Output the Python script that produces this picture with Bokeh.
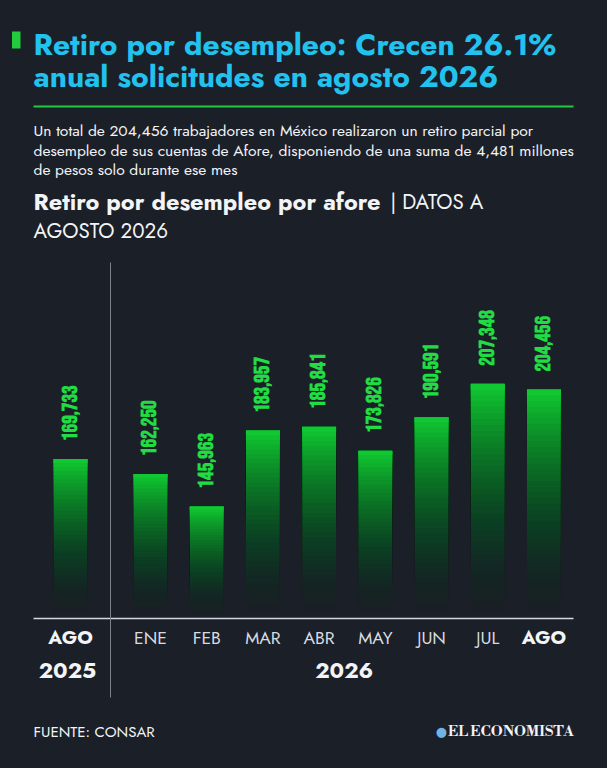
import math, subprocess
from bokeh.plotting import figure
from bokeh.models import ColumnDataSource, Label, Range1d
from bokeh.embed import file_html
from bokeh.resources import INLINE
from bokeh.core.properties import value

# ---------------- data ----------------
months = ["AGO", "ENE", "FEB", "MAR", "ABR", "MAY", "JUN", "JUL", "AGO"]
years = ["2025", "2026", "2026", "2026", "2026", "2026", "2026", "2026", "2026"]
values = [169733, 162250, 145963, 183957, 185841, 173826, 190591, 207348, 204456]

title_lines = ["Retiro por desempleo: Crecen 26.1%", "anual solicitudes en agosto 2026"]
subtitle_lines = [
    "Un total de 204,456 trabajadores en México realizaron un retiro parcial por",
    "desempleo de sus cuentas de Afore, disponiendo de una suma de 4,481 millones",
    "de pesos solo durante ese mes",
]
chart_title_bold = "Retiro por desempleo por afore"
chart_title_rest = "| DATOS A"
chart_title_line2 = "AGOSTO 2026"
source_text = "FUENTE: CONSAR"
brand_text = "EL ECONOMISTA"

# ---------------- fonts ----------------
try:
    _out = subprocess.run(["fc-list", ":", "family"], capture_output=True, text=True).stdout
except Exception:
    _out = ""
FAMS = set()
for _l in _out.splitlines():
    for _n in _l.split(","):
        FAMS.add(_n.strip())


def pick(*cands):
    for c in cands:
        if c in FAMS:
            return c
    return cands[-1]


F_GEO = pick("Jost", "League Spartan", "Outfit", "Open Sans")
F_GEO_LIGHT = pick("Jost Light", F_GEO)
F_NUM = pick("Bebas Neue", "Oswald", "Fjalla One", "Barlow Condensed", "Roboto Condensed", "Roboto")
F_BRAND = pick("Libre Bodoni", "Bodoni Moda", "Liberation Serif")

# ---------------- layout / style ----------------
W, H = 607, 768
BG = "#1b1f27"
TITLE_COLOR = "#22c2ef"
ACCENT = "#22cc3c"
BAR_GREEN = "#12c832"
LABEL_GREEN = "#22dc44"
WHITE = "#f2f4f6"
LIGHT = "#d8dce1"

GROUP_GAP = 0.423
BASE = 90000
PX_PER_UNIT_X = 56.21
X_START = -70 / PX_PER_UNIT_X
X_END = X_START + W / PX_PER_UNIT_X
UNITS_PER_PX_Y = 500
Y_START = BASE - (H - 618) * UNITS_PER_PX_Y
Y_END = Y_START + H * UNITS_PER_PX_Y
BAR_W = 0.605


def sy(yr):  # reference px (from top) -> screen y from bottom
    return H - yr


def dx(xr):
    return X_START + xr / PX_PER_UNIT_X


def dy(yr):
    return Y_START + sy(yr) * UNITS_PER_PX_Y


p = figure(width=W, height=H, output_backend="svg", toolbar_location=None,
           x_range=Range1d(X_START, X_END), y_range=Range1d(Y_START, Y_END),
           x_axis_location=None, y_axis_location=None, min_border=0,
           background_fill_color=BG, border_fill_color=BG, outline_line_color=None)
p.grid.visible = False

# x positions from category order and year groups
groups = list(dict.fromkeys(years))
xpos = [i + groups.index(y) * GROUP_GAP for i, y in enumerate(years)]

# ---------------- gradient bars (stacked translucent layers) ----------------
N = 40


def target(t):
    return t ** 1.7


bx, btop, bbot, balpha = [], [], [], []
for x, v in zip(xpos, values):
    for k in range(N):
        t0 = k / N
        t1 = (k + 1) / N
        o0, o1 = target(t0), target(t1)
        a = 1 - (1 - o1) / (1 - o0) if o0 < 1 else 1.0
        a = min(max(a, 0.0), 1.0)
        bx.append(x)
        bbot.append(BASE + (v - BASE) * t0)
        btop.append(v)
        balpha.append(a)
bars = ColumnDataSource(dict(x=bx, top=btop, bottom=bbot, alpha=balpha))
p.vbar(x="x", top="top", bottom="bottom", width=BAR_W, source=bars,
       fill_color=BAR_GREEN, fill_alpha="alpha", line_color=None)

# ---------------- value labels ----------------
lab_src = ColumnDataSource(dict(x=xpos, y=values, t=[f"{v:,}" for v in values]))
p.text(x="x", y="y", text="t", source=lab_src, angle=math.pi / 2,
       text_align="left", text_baseline="middle", x_offset=-2, y_offset=-18,
       text_color=LABEL_GREEN, text_font=value(F_NUM),
       text_font_style="bold", text_font_size="21.5px")

# ---------------- axis line and separator ----------------
p.segment(x0=[dx(33)], x1=[dx(573)], y0=[BASE], y1=[BASE], line_color="#d5d9de", line_width=1.5)
sep_x = (xpos[years.index(groups[1]) - 1] + xpos[years.index(groups[1])]) / 2
p.segment(x0=[sep_x], x1=[sep_x], y0=[dy(262)], y1=[dy(697)], line_color="#7d838b", line_width=1)

# ---------------- month labels ----------------
bold_idx = [0, len(months) - 1]
norm_idx = [i for i in range(len(months)) if i not in bold_idx]
m_bold = ColumnDataSource(dict(x=[xpos[i] for i in bold_idx], y=[BASE] * len(bold_idx),
                               t=[months[i] for i in bold_idx]))
m_norm = ColumnDataSource(dict(x=[xpos[i] for i in norm_idx], y=[BASE] * len(norm_idx),
                               t=[months[i] for i in norm_idx]))
p.text(x="x", y="y", text="t", source=m_bold, text_align="center", text_baseline="middle",
       y_offset=19, text_color=WHITE, text_font=value(F_GEO), text_font_style="bold",
       text_font_size="19px")
p.text(x="x", y="y", text="t", source=m_norm, text_align="center", text_baseline="middle",
       y_offset=19, text_color=LIGHT, text_font=value(F_GEO_LIGHT), text_font_style="normal",
       text_font_size="17.5px")

# year labels centered under each group
yx = [sum(x for x, y in zip(xpos, years) if y == g) / years.count(g) for g in groups]
y_src = ColumnDataSource(dict(x=yx, y=[BASE] * len(groups), t=groups))
p.text(x="x", y="y", text="t", source=y_src, text_align="center", text_baseline="middle",
       y_offset=51, x_offset=-3, text_color=WHITE, text_font=value(F_GEO), text_font_style="bold",
       text_font_size="22px")


# ---------------- texts ----------------
def lab(xr, yr, text, size, color=WHITE, font=F_GEO, style="normal", align="left"):
    p.add_layout(Label(x=xr, y=sy(yr), x_units="screen", y_units="screen", text=text,
                       text_font_size=size, text_color=color, text_font=font,
                       text_font_style=style, text_align=align, text_baseline="middle"))


p.quad(left=[dx(11.5)], right=[dx(20)], top=[dy(31)], bottom=[dy(48)], fill_color=ACCENT, line_color=None)
lab(33, 43.5, title_lines[0], "30px", color=TITLE_COLOR, style="bold")
lab(33, 75.5, title_lines[1], "30px", color=TITLE_COLOR, style="bold")
p.segment(x0=[dx(33)], x1=[dx(573)], y0=[dy(106)], y1=[dy(106)], line_color=ACCENT, line_width=2)

for i, line in enumerate(subtitle_lines):
    lab(33, 130 + 19.5 * i, line, "15.6px", color=WHITE)

lab(33, 201, chart_title_bold, "23.5px", color=WHITE, style="bold")
lab(390, 201, chart_title_rest, "20.5px", color=WHITE, font=F_GEO_LIGHT)
lab(33, 230, chart_title_line2, "20.5px", color=WHITE, font=F_GEO_LIGHT)

lab(33, 731, source_text, "15px", color=WHITE, font=F_GEO_LIGHT)
lab(573, 731, brand_text, "14.5px", color=WHITE, font=F_BRAND, style="bold", align="right")
lab(441, 731, "\u25cf", "13px", color="#6fb4e6", font="DejaVu Sans", align="center")

html = file_html(p, INLINE)
html = html.replace("</head>", "<style>html,body{background:%s;}</style></head>" % BG, 1)
open("out.html", "w").write(html)
